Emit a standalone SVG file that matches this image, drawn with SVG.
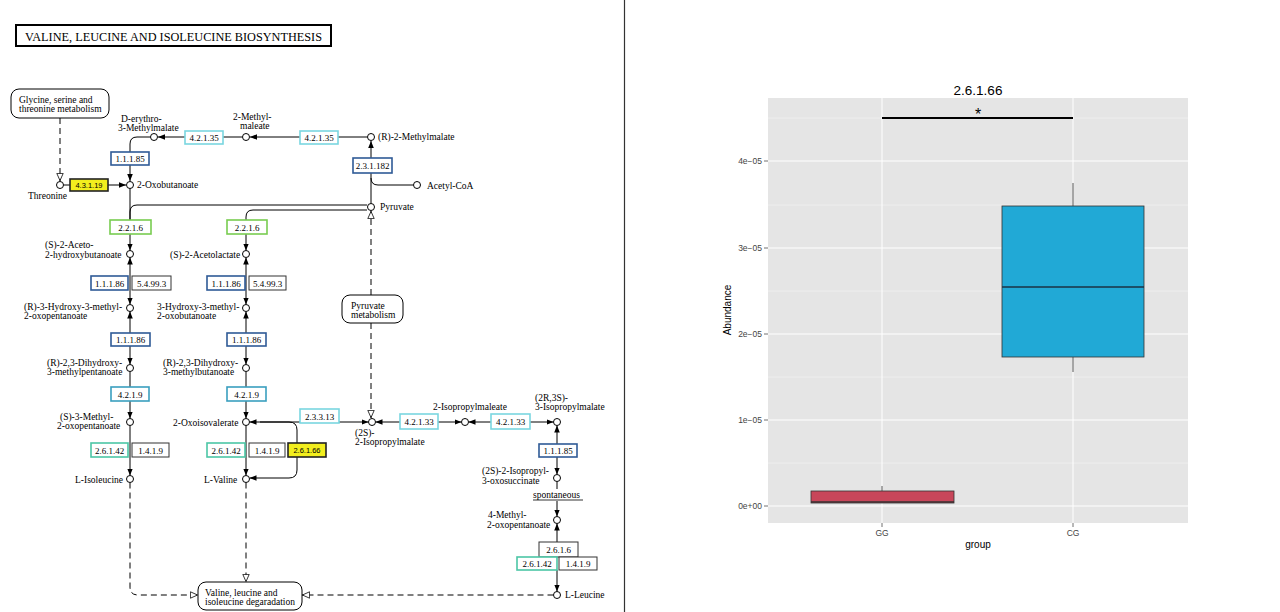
<svg xmlns="http://www.w3.org/2000/svg" width="1280" height="612" viewBox="0 0 1280 612">
<defs>
<style>
.t{font-family:"Liberation Serif",serif;font-size:9.5px;fill:#000}
.e{font-family:"Liberation Serif",serif;font-size:9px;fill:#000;text-anchor:middle}
.ey{font-family:"Liberation Sans",Arial,sans-serif;font-size:7.5px;fill:#000;text-anchor:middle}
.eb{fill:#fff;stroke-width:1.6}
.db{stroke:#2f5a96}
.cy{stroke:#7ad6e0}
.tb{stroke:#3a9fbf}
.gr{stroke:#78cc50}
.tg{stroke:#4cc6a6}
.bk{stroke:#333;stroke-width:1}
.ye{fill:#f2ee1e;stroke:#222;stroke-width:1.6}
.ln{fill:none;stroke:#000;stroke-width:1}
.ds{fill:none;stroke:#000;stroke-width:1;stroke-dasharray:6 4}
.c{fill:#fff;stroke:#000;stroke-width:1}
.pm{fill:#fff;stroke:#000;stroke-width:1}
.ax{font-family:"Liberation Sans",Arial,sans-serif;font-size:8.5px;fill:#444}
.at{font-family:"Liberation Sans",Arial,sans-serif;font-size:10px;fill:#000}
.gmaj{stroke:#fff;stroke-width:1}
.gmin{stroke:#f4f4f4;stroke-width:0.6}
</style>
<marker id="fa" viewBox="0 0 10 10" refX="10" refY="5" markerWidth="7" markerHeight="7" markerUnits="userSpaceOnUse" orient="auto-start-reverse"><path d="M0,1 L10,5 L0,9 z" fill="#000"/></marker>
<marker id="oa" viewBox="0 0 10 10" refX="10" refY="5" markerWidth="8" markerHeight="8" markerUnits="userSpaceOnUse" orient="auto"><path d="M0.5,1 L9.5,5 L0.5,9 z" fill="#fff" stroke="#000" stroke-width="1"/></marker>
</defs>
<rect width="1280" height="612" fill="#fff"/>
<line x1="624.5" y1="0" x2="624.5" y2="612" stroke="#333" stroke-width="1.2"/>

<g id="title">
<rect x="16" y="25" width="315" height="21" fill="#fff" stroke="#000" stroke-width="2"/>
<text x="25" y="41" font-family="Liberation Serif,serif" font-size="12.5" textLength="297" lengthAdjust="spacingAndGlyphs">VALINE, LEUCINE AND ISOLEUCINE BIOSYNTHESIS</text>
</g>

<g id="connectors">
<path class="ds" d="M60 118 V181" marker-end="url(#oa)"/>
<path class="ln" d="M63.5 185 H70"/>
<path class="ln" d="M108 185 H126" marker-end="url(#fa)"/>
<path class="ln" d="M150.5 137 H137 Q130 137 130 144 V181" marker-end="url(#fa)"/>
<path class="ln" d="M185 137 H158" marker-end="url(#fa)"/>
<path class="ln" d="M242.5 137 H223"/>
<path class="ln" d="M300 137 H250" marker-end="url(#fa)"/>
<path class="ln" d="M367.5 137 H338"/>
<path class="ln" d="M371 203.5 V141" marker-end="url(#fa)"/>
<path class="ln" d="M371 178 Q371 185 378 185 H413.5"/>
<path class="ln" d="M367 205 H137 Q130 205 130 212 V220"/>
<path class="ln" d="M367 210 H253 Q246 210 246 217 V220"/>
<path class="ln" d="M130 188.5 V220"/>
<path class="ds" d="M371 295 V211" marker-end="url(#oa)"/>
<path class="ds" d="M371 323 V418" marker-end="url(#oa)"/>
<path class="ln" d="M130 234 V250.5" marker-end="url(#fa)"/>
<path class="ln" d="M130 257.5 V304.5" marker-start="url(#fa)" marker-end="url(#fa)"/>
<path class="ln" d="M130 311.5 V333" marker-start="url(#fa)"/>
<path class="ln" d="M130 346 V364.5" marker-end="url(#fa)"/>
<path class="ln" d="M130 371.5 V387"/>
<path class="ln" d="M130 401 V418.5" marker-end="url(#fa)"/>
<path class="ln" d="M130 425.5 V475.5" marker-end="url(#fa)"/>
<path class="ln" d="M246 234 V250.5" marker-end="url(#fa)"/>
<path class="ln" d="M246 257.5 V304.5" marker-start="url(#fa)" marker-end="url(#fa)"/>
<path class="ln" d="M246 311.5 V333" marker-start="url(#fa)"/>
<path class="ln" d="M246 346 V364.5" marker-end="url(#fa)"/>
<path class="ln" d="M246 371.5 V387"/>
<path class="ln" d="M246 401 V418.5" marker-end="url(#fa)"/>
<path class="ln" d="M246 425.5 V475.5" marker-end="url(#fa)"/>
<path class="ln" d="M249.5 422 H289 Q297 422 297 430 V470 Q297 478 289 478 H249.5" marker-start="url(#fa)" marker-end="url(#fa)"/>
<path class="ln" d="M260 422 H368.5" marker-end="url(#fa)"/>
<path class="ln" d="M400 422 H375.5" marker-end="url(#fa)"/>
<path class="ln" d="M438 422 H461.5" marker-end="url(#fa)"/>
<path class="ln" d="M491 422 H468.5" marker-end="url(#fa)"/>
<path class="ln" d="M530 422 H553.5" marker-end="url(#fa)"/>
<path class="ln" d="M557 425.5 V444" marker-start="url(#fa)"/>
<path class="ln" d="M557 457 V474.5" marker-end="url(#fa)"/>
<path class="ln" d="M557 481.5 V489"/>
<path class="ln" d="M557 501 V516.5" marker-end="url(#fa)"/>
<path class="ln" d="M557 523.5 V542" marker-start="url(#fa)"/>
<path class="ln" d="M557 570 V591.5" marker-end="url(#fa)"/>
<path class="ds" d="M130 482.5 V587 Q130 595 138 595 H198" marker-end="url(#oa)"/>
<path class="ds" d="M246 482.5 V582" marker-end="url(#oa)"/>
<path class="ds" d="M553.5 595 H302" marker-end="url(#oa)"/>
</g>

<g id="map-glycine"><rect class="pm" x="11" y="89" width="98" height="29" rx="8"/><text class="t" x="19" y="103">Glycine, serine and</text><text class="t" x="19" y="112">threonine metabolism</text></g>
<g id="map-pyruvate"><rect class="pm" x="342" y="295" width="61" height="28" rx="8"/><text class="t" x="351" y="309">Pyruvate</text><text class="t" x="351" y="318">metabolism</text></g>
<g id="map-degradation"><rect class="pm" x="198" y="582" width="104" height="28" rx="8"/><text class="t" x="205" y="596">Valine, leucine and</text><text class="t" x="205" y="605">isoleucine degaradation</text></g>

<g id="threonine"><circle class="c" cx="60" cy="185" r="3.5"/><text class="t" x="28" y="199">Threonine</text></g>
<g id="oxobutanoate"><circle class="c" cx="130" cy="185" r="3.5"/><text class="t" x="137" y="188">2-Oxobutanoate</text></g>
<g id="erythro-methylmalate"><circle class="c" cx="154" cy="137" r="3.5"/><text class="t" x="121" y="122">D-erythro-</text><text class="t" x="118" y="131">3-Methylmalate</text></g>
<g id="methylmaleate"><circle class="c" cx="246" cy="137" r="3.5"/><text class="t" x="233" y="120">2-Methyl-</text><text class="t" x="240" y="129">maleate</text></g>
<g id="r-methylmalate"><circle class="c" cx="371" cy="137" r="3.5"/><text class="t" x="378" y="140">(R)-2-Methylmalate</text></g>
<g id="acetylcoa"><circle class="c" cx="417" cy="185" r="3.5"/><text class="t" x="427" y="189">Acetyl-CoA</text></g>
<g id="pyruvate"><circle class="c" cx="371" cy="207" r="3.5"/><text class="t" x="380" y="210">Pyruvate</text></g>
<g id="aceto-hydroxybutanoate"><circle class="c" cx="130" cy="254" r="3.5"/><text class="t" x="45" y="248">(S)-2-Aceto-</text><text class="t" x="45" y="258">2-hydroxybutanoate</text></g>
<g id="acetolactate"><circle class="c" cx="246" cy="254" r="3.5"/><text class="t" x="170" y="258">(S)-2-Acetolactate</text></g>
<g id="hydroxy-oxopentanoate"><circle class="c" cx="130" cy="308" r="3.5"/><text class="t" x="24" y="310">(R)-3-Hydroxy-3-methyl-</text><text class="t" x="24" y="319">2-oxopentanoate</text></g>
<g id="hydroxy-oxobutanoate"><circle class="c" cx="246" cy="308" r="3.5"/><text class="t" x="157" y="310">3-Hydroxy-3-methyl-</text><text class="t" x="157" y="319">2-oxobutanoate</text></g>
<g id="dihydroxy-methylpentanoate"><circle class="c" cx="130" cy="368" r="3.5"/><text class="t" x="47" y="366">(R)-2,3-Dihydroxy-</text><text class="t" x="47" y="375">3-methylpentanoate</text></g>
<g id="dihydroxy-methylbutanoate"><circle class="c" cx="246" cy="368" r="3.5"/><text class="t" x="163" y="366">(R)-2,3-Dihydroxy-</text><text class="t" x="163" y="375">3-methylbutanoate</text></g>
<g id="methyl-oxopentanoate"><circle class="c" cx="130" cy="422" r="3.5"/><text class="t" x="60" y="420">(S)-3-Methyl-</text><text class="t" x="57" y="429">2-oxopentanoate</text></g>
<g id="oxoisovalerate"><circle class="c" cx="246" cy="422" r="3.5"/><text class="t" x="173" y="426">2-Oxoisovalerate</text></g>
<g id="isoleucine"><circle class="c" cx="130" cy="479" r="3.5"/><text class="t" x="75" y="483">L-Isoleucine</text></g>
<g id="valine"><circle class="c" cx="246" cy="479" r="3.5"/><text class="t" x="204" y="483">L-Valine</text></g>
<g id="isopropylmalate-2s"><circle class="c" cx="372" cy="422" r="3.5"/><text class="t" x="355" y="436">(2S)-</text><text class="t" x="355" y="445">2-Isopropylmalate</text></g>
<g id="isopropylmaleate"><circle class="c" cx="465" cy="422" r="3.5"/><text class="t" x="433" y="410">2-Isopropylmaleate</text></g>
<g id="isopropylmalate-2r3s"><circle class="c" cx="557" cy="422" r="3.5"/><text class="t" x="535" y="401">(2R,3S)-</text><text class="t" x="535" y="410">3-Isopropylmalate</text></g>
<g id="isopropyl-oxosuccinate"><circle class="c" cx="557" cy="478" r="3.5"/><text class="t" x="482" y="474">(2S)-2-Isopropyl-</text><text class="t" x="482" y="484">3-oxosuccinate</text></g>
<g id="spontaneous"><text class="t" x="533" y="498">spontaneous</text><line x1="533" y1="500" x2="583" y2="500" stroke="#000" stroke-width="0.8"/></g>
<g id="methyl-oxopentanoate-4"><circle class="c" cx="557" cy="520" r="3.5"/><text class="t" x="488" y="518">4-Methyl-</text><text class="t" x="487" y="528">2-oxopentanoate</text></g>
<g id="leucine"><circle class="c" cx="557" cy="595" r="3.5"/><text class="t" x="565" y="598">L-Leucine</text></g>

<g id="enz-4.3.1.19"><rect class="ye" x="70" y="179" width="38" height="12"/><text class="ey" x="89" y="188">4.3.1.19</text></g>
<g id="enz-1.1.1.85a"><rect class="eb db" x="111" y="152" width="38" height="13"/><text class="e" x="130" y="162">1.1.1.85</text></g>
<g id="enz-4.2.1.35a"><rect class="eb cy" x="185" y="131" width="38" height="13"/><text class="e" x="204" y="141">4.2.1.35</text></g>
<g id="enz-4.2.1.35b"><rect class="eb cy" x="300" y="131" width="38" height="13"/><text class="e" x="319" y="141">4.2.1.35</text></g>
<g id="enz-2.3.1.182"><rect class="eb db" x="353" y="158" width="39" height="15"/><text class="e" x="372.5" y="169">2.3.1.182</text></g>
<g id="enz-2.2.1.6a"><rect class="eb gr" x="110" y="220" width="41" height="14"/><text class="e" x="130.5" y="230.5">2.2.1.6</text></g>
<g id="enz-2.2.1.6b"><rect class="eb gr" x="227" y="220" width="40" height="14"/><text class="e" x="247" y="230.5">2.2.1.6</text></g>
<g id="enz-1.1.1.86a"><rect class="eb db" x="91" y="276" width="37" height="14"/><text class="e" x="109.5" y="286.5">1.1.1.86</text></g>
<g id="enz-5.4.99.3a"><rect class="eb bk" x="132" y="276" width="39" height="14"/><text class="e" x="151.5" y="286.5">5.4.99.3</text></g>
<g id="enz-1.1.1.86b"><rect class="eb db" x="207" y="276" width="38" height="14"/><text class="e" x="226" y="286.5">1.1.1.86</text></g>
<g id="enz-5.4.99.3b"><rect class="eb bk" x="249" y="276" width="37" height="14"/><text class="e" x="267.5" y="286.5">5.4.99.3</text></g>
<g id="enz-1.1.1.86c"><rect class="eb db" x="111" y="333" width="39" height="13"/><text class="e" x="130.5" y="343">1.1.1.86</text></g>
<g id="enz-1.1.1.86d"><rect class="eb db" x="227" y="333" width="39" height="13"/><text class="e" x="246.5" y="343">1.1.1.86</text></g>
<g id="enz-4.2.1.9a"><rect class="eb tb" x="111" y="387" width="38" height="14"/><text class="e" x="130" y="397.5">4.2.1.9</text></g>
<g id="enz-4.2.1.9b"><rect class="eb tb" x="227" y="387" width="39" height="14"/><text class="e" x="246.5" y="397.5">4.2.1.9</text></g>
<g id="enz-2.6.1.42a"><rect class="eb tg" x="91" y="443" width="37" height="14"/><text class="e" x="109.5" y="453.5">2.6.1.42</text></g>
<g id="enz-1.4.1.9a"><rect class="eb bk" x="132" y="443" width="37" height="14"/><text class="e" x="150.5" y="453.5">1.4.1.9</text></g>
<g id="enz-2.6.1.42b"><rect class="eb tg" x="207" y="443" width="38" height="14"/><text class="e" x="226" y="453.5">2.6.1.42</text></g>
<g id="enz-1.4.1.9b"><rect class="eb bk" x="249" y="443" width="36" height="14"/><text class="e" x="267" y="453.5">1.4.1.9</text></g>
<g id="enz-2.6.1.66"><rect class="ye" x="288" y="443" width="38" height="14"/><text class="ey" x="307" y="453">2.6.1.66</text></g>
<g id="enz-2.3.3.13"><rect class="eb cy" x="300" y="409" width="39" height="14"/><text class="e" x="319.5" y="419.5">2.3.3.13</text></g>
<g id="enz-4.2.1.33a"><rect class="eb cy" x="400" y="414" width="38" height="15"/><text class="e" x="419" y="425">4.2.1.33</text></g>
<g id="enz-4.2.1.33b"><rect class="eb cy" x="491" y="414" width="39" height="15"/><text class="e" x="510.5" y="425">4.2.1.33</text></g>
<g id="enz-1.1.1.85b"><rect class="eb db" x="539" y="444" width="38" height="13"/><text class="e" x="558" y="454">1.1.1.85</text></g>
<g id="enz-2.6.1.6"><rect class="eb bk" x="539" y="542" width="39" height="15"/><text class="e" x="558.5" y="553">2.6.1.6</text></g>
<g id="enz-2.6.1.42c"><rect class="eb tg" x="517" y="557" width="40" height="13"/><text class="e" x="537" y="567">2.6.1.42</text></g>
<g id="enz-1.4.1.9c"><rect class="eb bk" x="559" y="557" width="38" height="13"/><text class="e" x="578" y="567">1.4.1.9</text></g>

<g id="chart">
<text x="978" y="95" text-anchor="middle" font-family="Liberation Sans,Arial,sans-serif" font-size="13.5">2.6.1.66</text>
<rect x="768" y="98" width="420" height="425" fill="#e5e5e5"/>
<g>
<line class="gmin" x1="768" y1="463" x2="1188" y2="463"/>
<line class="gmin" x1="768" y1="377" x2="1188" y2="377"/>
<line class="gmin" x1="768" y1="291" x2="1188" y2="291"/>
<line class="gmin" x1="768" y1="205" x2="1188" y2="205"/>
<line class="gmin" x1="768" y1="118" x2="1188" y2="118"/>
<line class="gmaj" x1="768" y1="506" x2="1188" y2="506"/>
<line class="gmaj" x1="768" y1="420" x2="1188" y2="420"/>
<line class="gmaj" x1="768" y1="334" x2="1188" y2="334"/>
<line class="gmaj" x1="768" y1="248" x2="1188" y2="248"/>
<line class="gmaj" x1="768" y1="161" x2="1188" y2="161"/>
<line class="gmaj" x1="882" y1="98" x2="882" y2="523"/>
<line class="gmaj" x1="1073" y1="98" x2="1073" y2="523"/>
</g>
<g stroke="#4d4d4d" stroke-width="0.8">
<line x1="764" y1="506" x2="768" y2="506"/><line x1="764" y1="420" x2="768" y2="420"/><line x1="764" y1="334" x2="768" y2="334"/><line x1="764" y1="248" x2="768" y2="248"/><line x1="764" y1="161" x2="768" y2="161"/>
<line x1="882" y1="523" x2="882" y2="527"/><line x1="1073" y1="523" x2="1073" y2="527"/>
</g>
<g class="ax" text-anchor="end">
<text x="762" y="509">0e+00</text><text x="762" y="423">1e−05</text><text x="762" y="337">2e−05</text><text x="762" y="251">3e−05</text><text x="762" y="164">4e−05</text>
</g>
<g class="ax" text-anchor="middle"><text x="882" y="536">GG</text><text x="1073" y="536">CG</text></g>
<text class="at" x="978" y="548" text-anchor="middle">group</text>
<text class="at" x="0" y="0" text-anchor="middle" transform="translate(731 310) rotate(-90)">Abundance</text>
<line x1="882" y1="486" x2="882" y2="491" stroke="#333" stroke-width="0.8"/>
<rect x="811" y="491" width="143" height="12" fill="#c8465a" stroke="#333" stroke-width="0.8"/>
<line x1="811" y1="502" x2="954" y2="502" stroke="#333" stroke-width="1.5"/>
<line x1="1073" y1="183" x2="1073" y2="206" stroke="#333" stroke-width="0.8"/>
<line x1="1073" y1="357" x2="1073" y2="372" stroke="#333" stroke-width="0.8"/>
<rect x="1002" y="206" width="142" height="151" fill="#21a9d6" stroke="#333" stroke-width="0.8"/>
<line x1="1002" y1="287" x2="1144" y2="287" stroke="#1a3344" stroke-width="1.6"/>
<line x1="882" y1="118" x2="1073" y2="118" stroke="#000" stroke-width="2"/>
<text x="978" y="120" text-anchor="middle" font-family="Liberation Sans,Arial,sans-serif" font-size="16">*</text>
</g>
</svg>
